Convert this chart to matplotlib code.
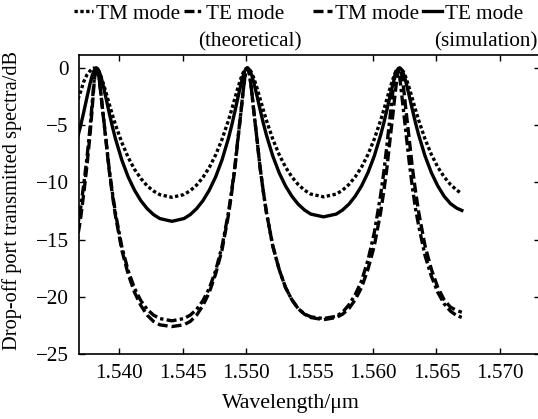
import matplotlib
matplotlib.use("Agg")
import matplotlib.pyplot as plt

# ---------------- data ----------------
wavelength = [
    1.5366, 1.53695, 1.5372, 1.53745, 1.5377, 1.53785, 1.5380, 1.5381, 1.5382,
    1.5383, 1.5384, 1.53855, 1.5387, 1.53895, 1.5392, 1.53945, 1.5397, 1.5402,
    1.5407, 1.5412, 1.5417, 1.5422, 1.5427, 1.5432, 1.54415,
    1.5451, 1.5456, 1.5461, 1.5466, 1.5471, 1.5476, 1.5481, 1.5486, 1.54885,
    1.5491, 1.54935, 1.5496, 1.54975, 1.5499, 1.5500, 1.5501,
    1.5502, 1.5503, 1.55045, 1.5506, 1.55085, 1.5511, 1.55135, 1.5516, 1.5521,
    1.5526, 1.5531, 1.5536, 1.5541, 1.5546, 1.5551, 1.5561,
    1.5571, 1.5576, 1.5581, 1.5586, 1.5591, 1.5596, 1.5601, 1.5606, 1.56085,
    1.5611, 1.56135, 1.5616, 1.56175, 1.5619, 1.5620, 1.5621,
    1.5622, 1.5623, 1.56245, 1.5626, 1.56285, 1.5631, 1.56335, 1.5636, 1.5641,
    1.5646, 1.5651, 1.5656, 1.5661, 1.5666, 1.5670,
]

# TM mode (theoretical) - dotted
tm_theory = [
    -3.2, -2.1, -1.2, -0.6, -0.25, -0.1, 0.0, -0.02, -0.07,
    -0.15, -0.33, -0.71, -1.2, -2.1, -3.1, -4.05, -4.95, -6.5,
    -7.8, -8.85, -9.65, -10.3, -10.75, -11.07, -11.3,
    -11.06, -10.72, -10.23, -9.55, -8.69, -7.59, -6.24, -4.59, -3.67,
    -2.70, -1.73, -0.86, -0.44, -0.15, -0.04, 0.0,
    -0.04, -0.15, -0.44, -0.86, -1.72, -2.68, -3.65, -4.57, -6.21,
    -7.56, -8.65, -9.51, -10.18, -10.68, -11.02, -11.26,
    -11.02, -10.68, -10.18, -9.51, -8.65, -7.56, -6.21, -4.57, -3.65,
    -2.68, -1.72, -0.86, -0.44, -0.15, -0.04, 0.0,
    -0.04, -0.15, -0.44, -0.86, -1.72, -2.68, -3.65, -4.57, -6.21,
    -7.56, -8.65, -9.51, -10.18, -10.68, -10.98,
]

# TE mode (theoretical) - dash-dot
te_theory = [
    -14.6, -12.3, -10.2, -7.9, -5.2, -3.3, -1.3, -0.35, 0.0,
    -0.2, -0.78, -2.16, -3.73, -6.19, -8.74, -10.8, -12.67, -15.6,
    -17.7, -19.25, -20.33, -21.1, -21.6, -21.9, -22.1,
    -21.9, -21.6, -21.1, -20.33, -19.25, -17.7, -15.6, -12.67, -10.8,
    -8.74, -6.19, -3.73, -2.16, -0.78, -0.2, 0.0,
    -0.2, -0.78, -2.15, -3.72, -6.16, -8.7, -10.76, -12.62, -15.55,
    -17.6, -19.17, -20.25, -21.03, -21.5, -21.75, -21.9,
    -21.7, -21.35, -20.7, -19.8, -18.6, -16.8, -14.4, -11.1, -9.1,
    -6.7, -4.2, -1.7, -0.45, 0.0, -0.2, -0.78,
    -1.7, -2.7, -4.2, -5.7, -8.2, -10.4, -12.3, -13.8, -16.4,
    -18.2, -19.6, -20.6, -21.25, -21.65, -21.8,
]

# TM mode (simulation) - dashed
tm_sim = [
    -15.6, -13.2, -11.0, -8.6, -5.8, -3.8, -1.6, -0.45, 0.0,
    -0.2, -0.8, -2.2, -3.8, -6.3, -8.9, -11.0, -12.9, -15.9,
    -18.0, -19.6, -20.75, -21.6, -22.15, -22.45, -22.6,
    -22.45, -22.15, -21.6, -20.75, -19.6, -18.0, -15.9, -12.9, -11.0,
    -8.9, -6.3, -3.8, -2.2, -0.8, -0.2, 0.0,
    -0.2, -0.78, -2.15, -3.72, -6.16, -8.7, -10.76, -12.62, -15.55,
    -17.6, -19.17, -20.25, -21.03, -21.52, -21.81, -22.0,
    -21.81, -21.52, -21.03, -20.25, -19.17, -17.6, -15.55, -12.62, -10.76,
    -8.7, -6.16, -3.72, -2.15, -0.78, -0.2, 0.0,
    -0.2, -0.78, -2.15, -3.72, -6.16, -8.7, -10.76, -12.62, -15.55,
    -17.6, -19.17, -20.25, -20.9, -21.2, -21.35,
]

# TE mode (simulation) - solid
te_sim = [
    -6.58, -5.08, -3.87, -2.60, -1.36, -0.72, -0.25, -0.06, 0.0,
    -0.06, -0.25, -0.72, -1.36, -2.60, -3.87, -5.08, -6.17, -8.03,
    -9.51, -10.67, -11.59, -12.29, -12.81, -13.16, -13.40,
    -13.16, -12.81, -12.29, -11.59, -10.67, -9.51, -8.03, -6.17, -5.08,
    -3.87, -2.60, -1.36, -0.72, -0.25, -0.06, 0.0,
    -0.06, -0.23, -0.66, -1.25, -2.41, -3.63, -4.80, -5.86, -7.69,
    -9.15, -10.30, -11.20, -11.90, -12.41, -12.77, -13.01,
    -12.77, -12.41, -11.90, -11.20, -10.30, -9.15, -7.69, -5.86, -4.80,
    -3.63, -2.41, -1.25, -0.66, -0.23, -0.06, 0.0,
    -0.06, -0.23, -0.66, -1.25, -2.41, -3.63, -4.80, -5.86, -7.69,
    -9.15, -10.30, -11.20, -11.85, -12.25, -12.45,
]

series_labels = ["TM mode", "TE mode", "TM mode", "TE mode"]
sub_labels = ["(theoretical)", "(simulation)"]
x_ticks = [1.540, 1.545, 1.550, 1.555, 1.560, 1.565, 1.570]
x_tick_labels = ["1.540", "1.545", "1.550", "1.555", "1.560", "1.565", "1.570"]
y_ticks = [0, -5, -10, -15, -20, -25]
y_tick_labels = ["0", "\u22125", "\u221210", "\u221215", "\u221220", "\u221225"]

# ---------------- figure ----------------
plt.rcParams['font.family'] = ['Liberation Serif', 'DejaVu Serif']
FS = 15.2

W, H = 538, 419
fig = plt.figure(figsize=(W / 100, H / 100), dpi=100)
ax_l, ax_r, ax_b, ax_t = 78.5, 539.5, 354, 55
ax = fig.add_axes([ax_l / W, 1 - ax_b / H, (ax_r - ax_l) / W, (ax_b - ax_t) / H])

lw = 2.4
l1, = ax.plot(wavelength, tm_theory, color='black', lw=lw, linestyle=(0, (1, 0.75)))
l2, = ax.plot(wavelength, te_theory, color='black', lw=lw, linestyle=(0, (3, 1, 1, 1)))
l3, = ax.plot(wavelength, tm_sim, color='black', lw=lw, linestyle=(0, (3, 1.2)))
l4, = ax.plot(wavelength, te_sim, color='black', lw=lw, linestyle='-')

ax.set_xlim(1.53679, 1.57312)
ax.set_ylim(-25, 1.14)
ax.set_xticks(x_ticks)
ax.set_xticklabels(x_tick_labels)
ax.set_yticks(y_ticks)
ax.set_yticklabels(y_tick_labels)
ax.tick_params(direction='in', length=4, width=1, top=True, right=True,
               labelsize=FS, pad=7, colors='black')
for t, v in zip(ax.xaxis.get_major_ticks(), x_ticks):
    if abs(v - 1.555) < 1e-9:
        t.tick1line.set_visible(False)
        t.tick2line.set_visible(False)
for s in ax.spines.values():
    s.set_linewidth(1.2)

ax.set_xlabel("Wavelength/\u03bcm", fontsize=FS + 0.5, va='center')
ax.xaxis.set_label_coords((291 - ax_l) / (ax_r - ax_l), (ax_b - 403) / (ax_b - ax_t))
ax.set_ylabel("Drop-off port transmitted spectra/dB", fontsize=FS - 0.5, va='center', ha='center')
ax.yaxis.set_label_coords((12 - ax_l) / (ax_r - ax_l), (ax_b - 200) / (ax_b - ax_t))

# legend: one entry each, placed along the top
handle_x = [74, 184, 313, 423]
for h, lab, xp in zip([l1, l2, l3, l4], series_labels, handle_x):
    fig.legend(handles=[h], labels=[lab], loc='center left',
               bbox_to_anchor=(xp / W, 1 - 14 / H), frameon=False,
               fontsize=FS, handlelength=0.9, handletextpad=0.15,
               borderpad=0, borderaxespad=0)
fig.text(250 / W, 1 - 42 / H, sub_labels[0], ha='center', va='center', fontsize=FS)
fig.text(486 / W, 1 - 42 / H, sub_labels[1], ha='center', va='center', fontsize=FS)

fig.savefig("out.png", dpi=100)
